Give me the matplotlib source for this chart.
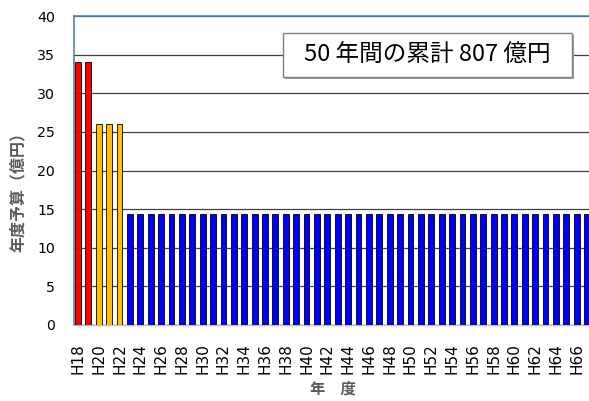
import matplotlib
matplotlib.use("Agg")
import matplotlib.pyplot as plt

plt.rcParams['font.family'] = ['Noto Sans CJK JP', 'DejaVu Sans']

# Annual budget (100 million yen), fiscal years H18..H67
years = [f"H{y}" for y in range(18, 68)]
red_values = [34, 34]
orange_values = [26, 26, 26]
blue_values = [14.4] * 45
values = red_values + orange_values + blue_values
colors = (["#FF0000"] * len(red_values)
          + ["#FFC000"] * len(orange_values)
          + ["#0000FF"] * len(blue_values))
y_ticks = [0, 5, 10, 15, 20, 25, 30, 35, 40]
total_label = "50 年間の累計 807 億円"

W, H = 589, 401
fig = plt.figure(figsize=(W / 100, H / 100), dpi=100)

ax_left, ax_right = 74, 592.3
ax_bottom, ax_top = 325, 16
ax = fig.add_axes([ax_left / W, (H - ax_bottom) / H,
                   (ax_right - ax_left) / W, (ax_bottom - ax_top) / H])

x = list(range(len(years)))
ax.bar(x, values, width=0.56, color=colors, edgecolor="black",
       linewidth=0.6, zorder=3)

ax.set_xlim(-0.385, len(years) - 0.5)
ax.set_ylim(0, 40)
ax.set_yticks(y_ticks)
ax.set_yticklabels([str(v) for v in y_ticks], fontsize=10.2,
                   family="DejaVu Sans")
ax.set_xticks(x[::2])
ax.set_xticklabels(years[::2], rotation=90, fontsize=11,
                   family="DejaVu Sans")
ax.tick_params(axis="y", length=0, pad=13.5)
ax.tick_params(axis="x", length=0, pad=13)

ax.yaxis.grid(True, color="#404040", linewidth=0.9, zorder=0)
ax.set_axisbelow(True)

ax.spines["right"].set_visible(False)
ax.spines["top"].set_color("#4F81BD")
ax.spines["top"].set_linewidth(1.2)
ax.spines["left"].set_color("#4F81BD")
ax.spines["left"].set_linewidth(1.2)
ax.spines["bottom"].set_color("#BFBFBF")
ax.spines["bottom"].set_linewidth(1.0)

ax.set_ylabel("年度予算（億円）", fontsize=11.5, fontweight="bold",
              color="#595959", labelpad=8)
ax.yaxis.label.set_y(0.443)
ax.set_xlabel("年　度", fontsize=11, fontweight="bold", color="#595959",
              labelpad=5)

# Summary box with a soft drop shadow
bx0, by0, bx1, by1 = 283, 33, 572, 77
shadow = plt.Rectangle(((bx0 + 2) / W, (H - by1 - 2) / H),
                       (bx1 - bx0) / W, (by1 - by0) / H,
                       transform=fig.transFigure, facecolor="#A0A0A0",
                       edgecolor="none", zorder=5)
box = plt.Rectangle((bx0 / W, (H - by1) / H), (bx1 - bx0) / W,
                    (by1 - by0) / H, transform=fig.transFigure,
                    facecolor="white", edgecolor="#7F7F7F", linewidth=1.0,
                    zorder=6)
fig.patches.extend([shadow, box])
fig.text((bx0 + bx1) / 2 / W, (H - (by0 + by1) / 2) / H, total_label,
         ha="center", va="center", fontsize=17, color="black", zorder=7)

fig.savefig("out.png", dpi=100)
